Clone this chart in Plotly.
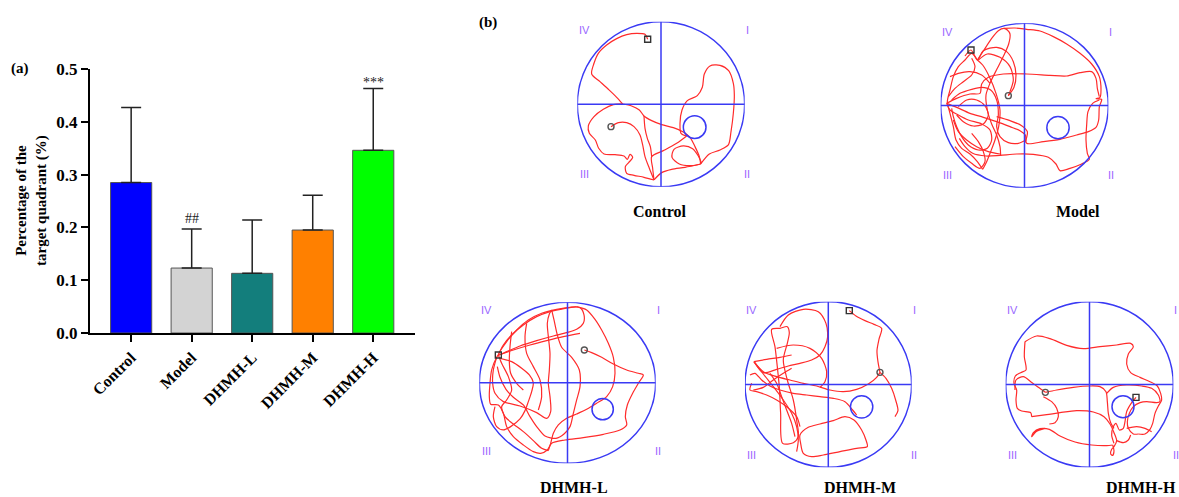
import plotly.graph_objects as go

W, H = 1179, 497

# ---------------- panel (a) data ----------------
categories = ["Control", "Model", "DHMH-L", "DHMH-M", "DHMH-H"]
means = [0.285, 0.123, 0.113, 0.195, 0.346]
sds = [0.142, 0.074, 0.101, 0.066, 0.117]
bar_colors = ["#0000FF", "#D3D3D3", "#137E7C", "#FF8000", "#00FF00"]
sig_marks = ["", "##", "", "", "***"]
y_ticks = [0.0, 0.1, 0.2, 0.3, 0.4, 0.5]

# ---------------- panel (b) data (tracker coordinates, y downward) ----------------
pool_names = ["Control", "Model", "DHMH-L", "DHMH-M", "DHMH-H"]
pool_cx = [573, 373.5, 292.5, 295, 388.5]
pool_cy = [313, 316.5, 338.5, 313.5, 313.5]
pool_rx = [251, 251.5, 264.5, 250, 251.5]
pool_ry = [247.5, 246.5, 241.5, 248.5, 248.5]
platform_x = [674, 474, 398, 395, 489]
platform_y = [381.5, 383, 417.5, 380.5, 380]
platform_r = [34, 33.5, 32, 33.5, 33]
start_x = [533, 213, 85, 358, 528]
start_y = [118, 150, 255, 92, 352]
end_x = [423, 325, 343, 450, 256]
end_y = [380, 287, 240, 277, 337]
quadrant_labels = ["IV", "I", "III", "II"]

track_control = [
    [(533,118),(525,103),(500,100),(470,104),(440,116),(410,135),(385,160),(372,190),(365,222),(390,245),(415,268),(440,292),(458,312)],
    [(458,312),(485,318),(508,330),(522,348),(545,362),(575,374),(610,383),(640,396),(660,412),(675,440),(688,470),(692,492)],
    [(692,492),(718,462),(750,450),(775,435),(783,395),(790,340),(793,285),(790,250),(776,212),(750,196),(720,198),(703,222),(697,262),(682,287),(652,302),(636,330),(630,370),(633,400),(650,408)],
    [(692,492),(665,497),(628,492),(606,472),(612,448),(640,438),(668,446),(685,468),(695,490)],
    [(650,408),(620,430),(580,452),(545,470),(548,505),(552,540)],
    [(545,470),(541,440),(532,415),(525,385),(522,348)],
    [(552,540),(575,518),(605,508),(645,502),(692,492)],
    [(458,312),(430,314),(400,328),(372,350),(355,378),(358,400),(376,420),(386,445),(402,462),(435,464),(462,468),(472,478),(480,463),(488,472),(476,488),(466,500),(470,520),(492,526),(522,532),(552,540)],
    [(423,380),(445,368),(470,368),(492,380),(510,405),(518,435),(525,470),(538,505),(552,540)],
]

track_model = [
    [(195,168),(213,150),(232,180),(250,152),(290,142),(320,155),(340,185),(348,225),(342,262),(325,287)],
    [(232,180),(215,160),(195,180),(175,200),(160,230),(150,270),(142,305),(150,340),(160,380),(168,420),(185,445),(210,462),(232,485),(248,508)],
    [(248,508),(260,485),(272,455),(285,420),(296,380),(300,330),(288,280),(268,230),(248,195),(232,180)],
    [(232,180),(252,150),(275,115),(295,92),(312,85),(322,90),(330,102),(326,132),(312,165),(292,205),(272,245),(258,285),(262,330),(275,372),(290,405),(300,440),(302,468)],
    [(312,85),(345,84),(380,88),(420,93),(460,110),(500,132),(540,160),(575,192),(598,230),(603,270),(600,292),(588,296),(605,298),(598,320),(596,360),(588,382),(565,395),(530,405),(480,418),(430,425),(380,430),(376,405),(360,392),(330,380),(290,365),(250,352),(210,340),(170,322),(140,310)],
    [(140,310),(170,295),(210,282),(240,280),(245,252),(265,232),(310,222),(380,222),(450,226),(500,228),(540,218),(575,215),(588,235),(592,265),(598,290)],
    [(598,300),(578,310),(564,335),(560,375),(558,420),(562,460),(568,478),(545,492),(510,505),(480,512),(468,492),(445,472),(400,463),(350,462),(300,466),(258,468),(218,460),(195,440),(178,415)],
    [(140,310),(150,330),(175,345),(205,360),(245,372),(270,390),(275,420),(262,445),(235,450),(205,435),(185,410),(170,380),(160,350),(155,325)],
    [(155,300),(180,280),(215,268),(245,262),(272,270),(290,300),(295,345),(290,380),(300,410),(325,428),(355,430),(378,420)],
    [(290,350),(330,362),(365,377),(382,395),(375,428)],
    [(235,180),(262,162),(300,172),(330,200),(340,240),(330,275),(325,287)],
    [(150,230),(175,220),(210,215),(245,225),(270,250)],
    [(160,360),(175,395),(200,420),(230,440),(265,455),(300,462)],
    [(145,290),(165,265),(190,245),(215,225),(225,200),(215,175)],
    [(165,440),(190,470),(215,490),(240,505),(255,485),(250,455),(235,425),(215,400)],
    [(175,320),(200,300),(230,300),(255,318),(265,345),(250,372),(220,378),(190,365),(170,345)],
]

track_dhmh_l = [
    [(343,240),(365,248),(395,262),(430,282),(470,300),(505,310),(520,315),(505,340),(488,370),(472,405),(466,440),(470,465),(450,480),(400,493),(340,503),(285,510),(245,520),(232,540),(212,550),(190,545),(160,525),(130,500),(110,470),(100,430),(85,405),(62,403),(58,380),(60,340),(65,300),(80,262),(85,255)],
    [(85,255),(110,215),(140,180),(175,150),(215,130),(260,118),(300,112),(330,113),(342,135),(340,160),(320,178),(290,188),(250,198),(200,212),(150,228),(110,245),(85,255)],
    [(85,255),(100,225),(125,195),(160,165),(200,140),(240,125),(285,115),(320,110)],
    [(320,110),(350,120),(375,148),(395,180),(415,220),(430,262),(435,310),(428,350),(410,380),(380,400),(350,418),(320,432),(290,445),(265,465),(250,490),(242,520),(235,542)],
    [(85,255),(95,280),(115,320),(125,360),(110,390),(95,410),(105,440),(130,462),(160,485),(190,512),(215,535),(235,542)],
    [(80,262),(70,300),(68,340),(75,370),(100,395),(150,408),(200,428),(230,445),(242,425),(240,380),(235,340),(238,300),(240,250),(235,200),(232,160),(238,132),(245,120)],
    [(245,120),(252,150),(262,195),(275,232),(305,262),(328,300),(330,350),(320,390),(310,430),(300,470),(282,492),(258,505),(225,498),(200,470),(180,440),(160,405),(130,382),(108,358),(90,322),(82,290)],
    [(90,265),(125,275),(155,295),(178,315),(190,338),(185,365),(175,395),(165,422),(150,447),(122,470),(100,480),(80,470),(70,440),(75,410)],
    [(125,185),(120,230),(118,275),(122,310),(140,340),(160,360)],
    [(85,255),(130,240),(180,225),(230,212),(280,200),(330,190)],
    [(170,160),(165,200),(170,250),(190,290),(210,330),(215,380),(205,420)],
]

track_dhmh_m = [
    [(358,92),(378,108),(405,122),(432,133),(455,145),(447,178),(441,212),(444,245),(450,277)],
    [(450,277),(440,292),(415,312),(380,328),(340,335),(300,330),(260,318),(220,310),(180,300),(140,290),(100,275),(72,245)],
    [(450,277),(468,295),(485,325),(497,360),(504,392),(495,410)],
    [(150,140),(175,105),(220,88),(265,95),(288,130),(293,170),(285,200),(270,225),(245,240),(210,250),(175,258),(140,268),(100,278),(72,245)],
    [(140,205),(190,195),(240,205),(275,235),(290,275),(285,305),(270,322)],
    [(125,148),(135,200),(142,260),(148,320),(152,400),(158,490),(190,488),(205,470),(200,420),(190,360),(172,300),(160,240),(172,190),(178,158),(172,140),(150,145),(125,148)],
    [(72,245),(100,282),(130,320),(160,360),(185,400),(200,440),(205,480),(200,515)],
    [(60,285),(75,280),(95,300),(120,318),(150,330),(190,340),(230,345),(270,350),(310,355),(345,365),(368,390),(380,405)],
    [(65,310),(60,330),(80,335),(110,345),(140,360),(170,380),(200,410),(210,440)],
    [(210,465),(235,442),(270,432),(310,422),(345,410),(372,420),(395,450),(408,480),(412,500),(380,505),(330,515),(280,525),(245,530),(220,520),(212,490),(210,465)],
    [(120,280),(140,310),(155,350),(170,390),(185,430),(195,470)],
    [(293,160),(296,195)],
    [(72,245),(110,238),(150,232),(185,225)],
    [(70,330),(100,322),(130,300),(160,280),(185,265)],
]

track_dhmh_h = [
    [(195,185),(230,168),(270,176),(320,196),(370,206),(420,200),(470,195),(512,190),(520,200),(505,222),(500,252),(512,278),(540,292),(570,305),(592,318),(602,340),(605,360),(595,378),(585,400),(578,430),(570,448),(555,462),(535,462)],
    [(440,340),(460,322),(500,315),(545,318),(575,325),(595,345),(600,365),(590,368),(560,365),(540,368),(520,380),(508,400),(502,425),(505,445),(520,462),(535,462)],
    [(528,352),(515,368),(500,395),(495,425),(490,445),(478,450),(468,430),(460,440),(455,465),(462,490)],
    [(256,337),(290,330),(340,322),(390,318),(420,320),(438,335),(442,365),(445,400),(452,428),(462,445)],
    [(195,185),(193,230),(198,270),(182,278),(166,288),(162,310),(170,330),(168,360),(172,385),(185,393),(212,398),(215,410)],
    [(256,337),(235,322),(212,305),(190,290),(168,300),(165,330)],
    [(215,410),(260,404),(300,398),(350,392),(400,396),(432,410),(450,432),(462,458),(470,482),(462,500),(455,508),(452,522),(458,526),(462,512),(458,495)],
    [(458,495),(440,497),(395,495),(345,486),(300,468),(268,448),(240,446),(220,458),(215,470),(228,455),(255,445)],
    [(250,350),(275,365),(290,385),(295,410),(285,428),(268,432)],
    [(500,445),(530,440),(555,445),(575,455)],
    [(470,482),(490,488),(505,480),(512,465)],
]

tracks = [track_control, track_model, track_dhmh_l, track_dhmh_m, track_dhmh_h]

# ---------------- layout placement (screen pixels) ----------------
panel_center_px = [(661, 104.3), (1024.5, 105.5), (567.5, 382.8), (828.3, 384.5), (1089.5, 384.5)]
px_per_unit = 1 / 3
label_px = [(660, 211), (1078, 211), (574, 487), (860, 487), (1141, 487)]
quad_offsets = [(-0.92, 0.90), (1.03, 0.90), (-0.92, -0.85), (1.03, -0.85)]

serif = "Liberation Serif"
fig = go.Figure()

fig.add_trace(go.Bar(
    x=categories, y=means, width=0.68,
    marker=dict(color=bar_colors, line=dict(color="#555555", width=1)),
    error_y=dict(type="data", array=sds, arrayminus=[0] * len(sds), symmetric=False,
                 color="#222222", thickness=1.5, width=10),
    showlegend=False, xaxis="x", yaxis="y",
))

annotations = []
shapes = []
for cat, m, s, mark in zip(categories, means, sds, sig_marks):
    if mark:
        annotations.append(dict(x=cat, y=m + s, xref="x", yref="y", text=mark, showarrow=False,
                                xanchor="center", yanchor="bottom", yshift=(1 if mark == "##" else -3),
                                font=dict(family=serif, size=14, color="#222222")))


def paper_note(xp, yp, text, size, **kw):
    d = dict(x=xp / W, y=1 - yp / H, xref="paper", yref="paper", text=text, showarrow=False,
             xanchor="center", yanchor="middle", font=dict(family=serif, size=size, color="black", weight="bold"))
    d.update(kw)
    return d


annotations.append(paper_note(31, 201, "Percentage of the<br>target quadrant (%)", 15, textangle=-90))
annotations.append(paper_note(20, 68, "(a)", 15))
annotations.append(paper_note(488, 23, "(b)", 15))

layout_axes = {}
blue = "#3A3AF4"
for i, name in enumerate(pool_names):
    n = i + 2
    xa, ya = f"x{n}", f"y{n}"
    cx, cy, rx, ry = pool_cx[i], pool_cy[i], pool_rx[i], pool_ry[i]
    scx, scy = panel_center_px[i]
    srx, sry = rx * px_per_unit, ry * px_per_unit
    layout_axes[f"xaxis{n}"] = dict(domain=[(scx - srx) / W, (scx + srx) / W], range=[cx - rx, cx + rx],
                                    visible=False, anchor=ya, fixedrange=True, automargin=False)
    layout_axes[f"yaxis{n}"] = dict(domain=[1 - (scy + sry) / H, 1 - (scy - sry) / H], range=[cy + ry, cy - ry],
                                    visible=False, anchor=xa, fixedrange=True, automargin=False)
    shapes.append(dict(type="circle", xref=xa, yref=ya, x0=cx - rx, x1=cx + rx, y0=cy - ry, y1=cy + ry,
                       line=dict(color=blue, width=1.5)))
    shapes.append(dict(type="line", xref=xa, yref=ya, x0=cx, x1=cx, y0=cy - ry, y1=cy + ry,
                       line=dict(color=blue, width=1.5)))
    shapes.append(dict(type="line", xref=xa, yref=ya, x0=cx - rx, x1=cx + rx, y0=cy, y1=cy,
                       line=dict(color=blue, width=1.5)))
    pr = platform_r[i]
    shapes.append(dict(type="circle", xref=xa, yref=ya, x0=platform_x[i] - pr, x1=platform_x[i] + pr,
                       y0=platform_y[i] - pr, y1=platform_y[i] + pr, line=dict(color=blue, width=1.5)))

    xs, ys = [], []
    for stroke in tracks[i]:
        xs += [p[0] for p in stroke] + [None]
        ys += [p[1] for p in stroke] + [None]
    fig.add_trace(go.Scatter(x=xs, y=ys, mode="lines",
                             line=dict(color="#FF2B2B", width=1.2, shape="spline", smoothing=0.8),
                             xaxis=xa, yaxis=ya, showlegend=False, hoverinfo="skip"))
    fig.add_trace(go.Scatter(x=[end_x[i]], y=[end_y[i]], mode="markers",
                             marker=dict(symbol="circle-open", size=6, color="#555555", line=dict(width=1.4)),
                             xaxis=xa, yaxis=ya, showlegend=False, hoverinfo="skip"))
    fig.add_trace(go.Scatter(x=[start_x[i]], y=[start_y[i]], mode="markers",
                             marker=dict(symbol="square-open", size=6, color="#333333", line=dict(width=1.4)),
                             xaxis=xa, yaxis=ya, showlegend=False, hoverinfo="skip"))
    for lab, (fx, fy) in zip(quadrant_labels, quad_offsets):
        annotations.append(dict(x=(scx + fx * srx) / W, y=1 - (scy - fy * sry) / H, xref="paper", yref="paper",
                                text=lab, showarrow=False, xanchor="center", yanchor="middle",
                                font=dict(family="Liberation Sans", size=11, color="#9966FF")))
    lx, ly = label_px[i]
    annotations.append(paper_note(lx, ly, name, 16))

fig.update_layout(
    width=W, height=H, margin=dict(l=0, r=0, t=0, b=0, autoexpand=False),
    paper_bgcolor="white", plot_bgcolor="white",
    xaxis=dict(domain=[90 / W, 415 / W], range=[-0.68, 4.69], showline=True, linewidth=2, linecolor="black",
               ticks="outside", ticklen=7, tickwidth=2, tickcolor="black", tickangle=-45,
               tickfont=dict(family=serif, size=16, color="black", weight="bold"), showgrid=False,
               zeroline=False, fixedrange=True, automargin=False),
    yaxis=dict(domain=[1 - 333 / H, 1 - 69 / H], range=[0, 0.5], tickvals=y_ticks,
               ticktext=[f"{v:.1f}" for v in y_ticks], showline=True, linewidth=2, linecolor="black",
               ticks="outside", ticklen=7, tickwidth=2, tickcolor="black",
               tickfont=dict(family=serif, size=17, color="black", weight="bold"), showgrid=False,
               zeroline=False, fixedrange=True, automargin=False),
    annotations=annotations, shapes=shapes, bargap=0.3,
    **layout_axes,
)

fig.write_html("out.html", include_plotlyjs=True, config={"displayModeBar": False},
               post_script="document.body.style.margin='0px';document.body.style.overflow='hidden';")
